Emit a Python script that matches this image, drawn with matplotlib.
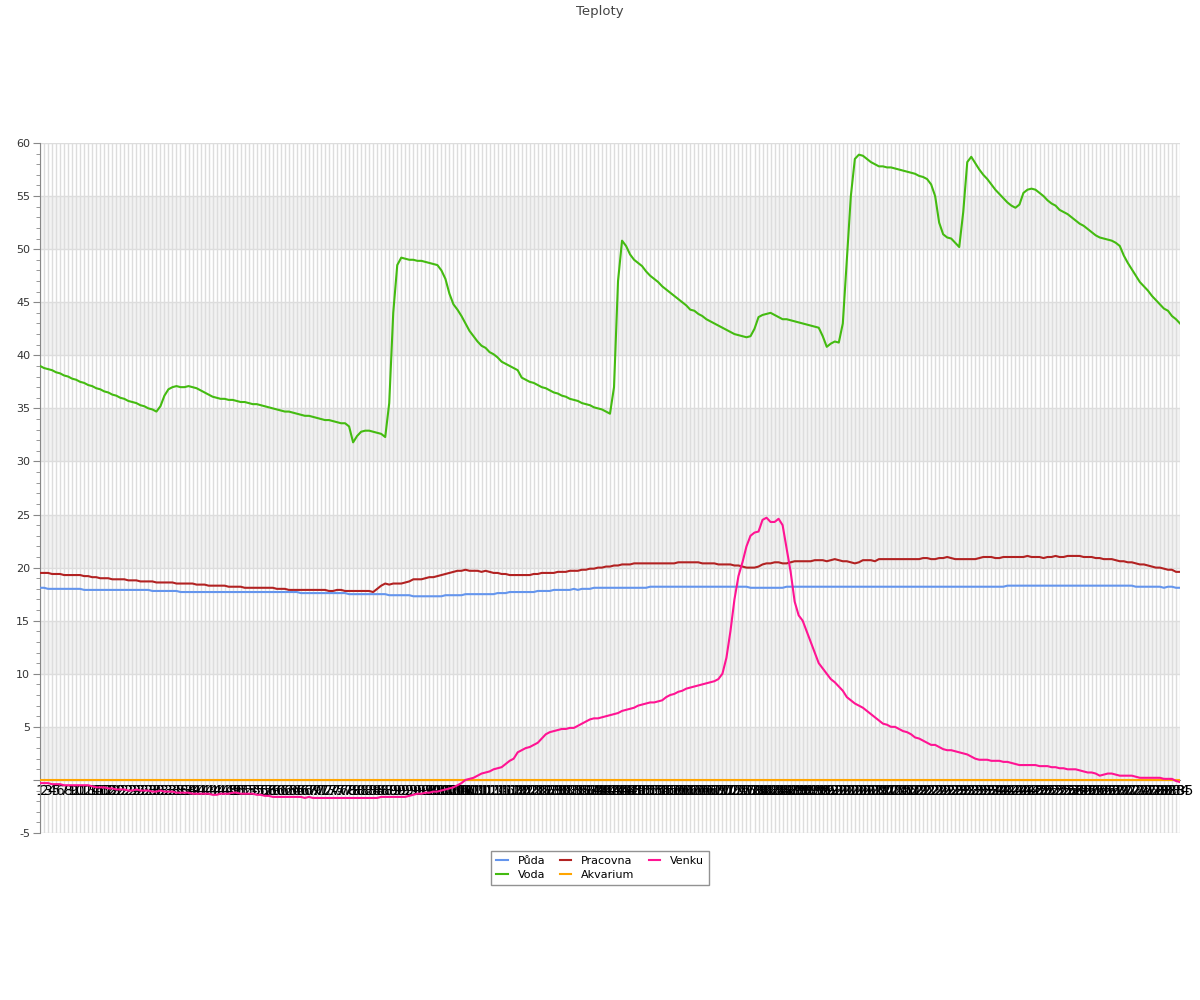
"""Teploty - průběh teplot ze senzorů."""
import matplotlib

matplotlib.use("Agg")
import matplotlib.pyplot as plt
from matplotlib.ticker import MultipleLocator

# měření 1..285
MERENI = list(range(1, 286))

PUDA = [
    18.1, 18.1, 18.0, 18.0, 18.0, 18.0, 18.0, 18.0, 18.0, 18.0,
    18.0, 17.9, 17.9, 17.9, 17.9, 17.9, 17.9, 17.9, 17.9, 17.9,
    17.9, 17.9, 17.9, 17.9, 17.9, 17.9, 17.9, 17.9, 17.8, 17.8,
    17.8, 17.8, 17.8, 17.8, 17.8, 17.7, 17.7, 17.7, 17.7, 17.7,
    17.7, 17.7, 17.7, 17.7, 17.7, 17.7, 17.7, 17.7, 17.7, 17.7,
    17.7, 17.7, 17.7, 17.7, 17.7, 17.7, 17.7, 17.7, 17.7, 17.7,
    17.7, 17.7, 17.7, 17.7, 17.7, 17.6, 17.6, 17.6, 17.6, 17.6,
    17.6, 17.6, 17.6, 17.6, 17.6, 17.6, 17.6, 17.5, 17.5, 17.5,
    17.5, 17.5, 17.5, 17.5, 17.5, 17.5, 17.5, 17.4, 17.4, 17.4,
    17.4, 17.4, 17.4, 17.3, 17.3, 17.3, 17.3, 17.3, 17.3, 17.3,
    17.3, 17.4, 17.4, 17.4, 17.4, 17.4, 17.5, 17.5, 17.5, 17.5,
    17.5, 17.5, 17.5, 17.5, 17.6, 17.6, 17.6, 17.7, 17.7, 17.7,
    17.7, 17.7, 17.7, 17.7, 17.8, 17.8, 17.8, 17.8, 17.9, 17.9,
    17.9, 17.9, 17.9, 18.0, 17.9, 18.0, 18.0, 18.0, 18.1, 18.1,
    18.1, 18.1, 18.1, 18.1, 18.1, 18.1, 18.1, 18.1, 18.1, 18.1,
    18.1, 18.1, 18.2, 18.2, 18.2, 18.2, 18.2, 18.2, 18.2, 18.2,
    18.2, 18.2, 18.2, 18.2, 18.2, 18.2, 18.2, 18.2, 18.2, 18.2,
    18.2, 18.2, 18.2, 18.2, 18.2, 18.2, 18.2, 18.1, 18.1, 18.1,
    18.1, 18.1, 18.1, 18.1, 18.1, 18.1, 18.2, 18.2, 18.2, 18.2,
    18.2, 18.2, 18.2, 18.2, 18.2, 18.2, 18.2, 18.2, 18.2, 18.2,
    18.2, 18.2, 18.2, 18.2, 18.2, 18.2, 18.2, 18.2, 18.2, 18.2,
    18.2, 18.2, 18.2, 18.2, 18.2, 18.2, 18.2, 18.2, 18.2, 18.2,
    18.2, 18.2, 18.2, 18.2, 18.2, 18.2, 18.2, 18.2, 18.2, 18.2,
    18.2, 18.2, 18.2, 18.2, 18.2, 18.2, 18.2, 18.2, 18.2, 18.2,
    18.2, 18.3, 18.3, 18.3, 18.3, 18.3, 18.3, 18.3, 18.3, 18.3,
    18.3, 18.3, 18.3, 18.3, 18.3, 18.3, 18.3, 18.3, 18.3, 18.3,
    18.3, 18.3, 18.3, 18.3, 18.3, 18.3, 18.3, 18.3, 18.3, 18.3,
    18.3, 18.3, 18.3, 18.2, 18.2, 18.2, 18.2, 18.2, 18.2, 18.2,
    18.1, 18.2, 18.2, 18.1, 18.1,
]

VODA = [
    39.0, 38.8, 38.7, 38.6, 38.4, 38.3, 38.1, 38.0, 37.8, 37.7,
    37.5, 37.4, 37.2, 37.1, 36.9, 36.8, 36.6, 36.5, 36.3, 36.2,
    36.0, 35.9, 35.7, 35.6, 35.5, 35.3, 35.2, 35.0, 34.9, 34.7,
    35.2, 36.2, 36.8, 37.0, 37.1, 37.0, 37.0, 37.1, 37.0, 36.9,
    36.7, 36.5, 36.3, 36.1, 36.0, 35.9, 35.9, 35.8, 35.8, 35.7,
    35.6, 35.6, 35.5, 35.4, 35.4, 35.3, 35.2, 35.1, 35.0, 34.9,
    34.8, 34.7, 34.7, 34.6, 34.5, 34.4, 34.3, 34.3, 34.2, 34.1,
    34.0, 33.9, 33.9, 33.8, 33.7, 33.6, 33.6, 33.3, 31.8, 32.4,
    32.8, 32.9, 32.9, 32.8, 32.7, 32.6, 32.3, 35.5, 44.0, 48.5,
    49.2, 49.1, 49.0, 49.0, 48.9, 48.9, 48.8, 48.7, 48.6, 48.5,
    48.0, 47.2, 45.8, 44.8, 44.3, 43.7, 43.0, 42.3, 41.8, 41.3,
    40.9, 40.7, 40.3, 40.1, 39.8, 39.4, 39.2, 39.0, 38.8, 38.6,
    37.9, 37.7, 37.5, 37.4, 37.2, 37.0, 36.9, 36.7, 36.5, 36.4,
    36.2, 36.1, 35.9, 35.8, 35.7, 35.5, 35.4, 35.3, 35.1, 35.0,
    34.9, 34.7, 34.5, 37.0, 47.0, 50.8, 50.3, 49.5, 49.0, 48.7,
    48.4, 47.9, 47.5, 47.2, 46.9, 46.5, 46.2, 45.9, 45.6, 45.3,
    45.0, 44.7, 44.3, 44.2, 43.9, 43.7, 43.4, 43.2, 43.0, 42.8,
    42.6, 42.4, 42.2, 42.0, 41.9, 41.8, 41.7, 41.8, 42.5, 43.6,
    43.8, 43.9, 44.0, 43.8, 43.6, 43.4, 43.4, 43.3, 43.2, 43.1,
    43.0, 42.9, 42.8, 42.7, 42.6, 41.8, 40.8, 41.1, 41.3, 41.2,
    43.0, 49.0, 55.0, 58.5, 58.9, 58.8, 58.5, 58.2, 58.0, 57.8,
    57.8, 57.7, 57.7, 57.6, 57.5, 57.4, 57.3, 57.2, 57.1, 56.9,
    56.8, 56.6, 56.1, 55.0, 52.5, 51.4, 51.1, 51.0, 50.6, 50.2,
    53.5, 58.2, 58.7, 58.1, 57.5, 57.0, 56.6, 56.1, 55.6, 55.2,
    54.8, 54.4, 54.1, 53.9, 54.2, 55.3, 55.6, 55.7, 55.6, 55.3,
    55.0, 54.6, 54.3, 54.1, 53.7, 53.5, 53.3, 53.0, 52.7, 52.4,
    52.2, 51.9, 51.6, 51.3, 51.1, 51.0, 50.9, 50.8, 50.6, 50.3,
    49.4, 48.7, 48.1, 47.5, 46.9, 46.5, 46.1, 45.6, 45.2, 44.8,
    44.4, 44.2, 43.7, 43.4, 43.0,
]

PRACOVNA = [
    19.5, 19.5, 19.5, 19.4, 19.4, 19.4, 19.3, 19.3, 19.3, 19.3,
    19.3, 19.2, 19.2, 19.1, 19.1, 19.0, 19.0, 19.0, 18.9, 18.9,
    18.9, 18.9, 18.8, 18.8, 18.8, 18.7, 18.7, 18.7, 18.7, 18.6,
    18.6, 18.6, 18.6, 18.6, 18.5, 18.5, 18.5, 18.5, 18.5, 18.4,
    18.4, 18.4, 18.3, 18.3, 18.3, 18.3, 18.3, 18.2, 18.2, 18.2,
    18.2, 18.1, 18.1, 18.1, 18.1, 18.1, 18.1, 18.1, 18.1, 18.0,
    18.0, 18.0, 17.9, 17.9, 17.9, 17.9, 17.9, 17.9, 17.9, 17.9,
    17.9, 17.9, 17.8, 17.8, 17.9, 17.9, 17.8, 17.8, 17.8, 17.8,
    17.8, 17.8, 17.8, 17.7, 18.0, 18.3, 18.5, 18.4, 18.5, 18.5,
    18.5, 18.6, 18.7, 18.9, 18.9, 18.9, 19.0, 19.1, 19.1, 19.2,
    19.3, 19.4, 19.5, 19.6, 19.7, 19.7, 19.8, 19.7, 19.7, 19.7,
    19.6, 19.7, 19.6, 19.5, 19.5, 19.4, 19.4, 19.3, 19.3, 19.3,
    19.3, 19.3, 19.3, 19.4, 19.4, 19.5, 19.5, 19.5, 19.5, 19.6,
    19.6, 19.6, 19.7, 19.7, 19.7, 19.8, 19.8, 19.9, 19.9, 20.0,
    20.0, 20.1, 20.1, 20.2, 20.2, 20.3, 20.3, 20.3, 20.4, 20.4,
    20.4, 20.4, 20.4, 20.4, 20.4, 20.4, 20.4, 20.4, 20.4, 20.5,
    20.5, 20.5, 20.5, 20.5, 20.5, 20.4, 20.4, 20.4, 20.4, 20.3,
    20.3, 20.3, 20.3, 20.2, 20.2, 20.1, 20.0, 20.0, 20.0, 20.1,
    20.3, 20.4, 20.4, 20.5, 20.5, 20.4, 20.4, 20.5, 20.6, 20.6,
    20.6, 20.6, 20.6, 20.7, 20.7, 20.7, 20.6, 20.7, 20.8, 20.7,
    20.6, 20.6, 20.5, 20.4, 20.5, 20.7, 20.7, 20.7, 20.6, 20.8,
    20.8, 20.8, 20.8, 20.8, 20.8, 20.8, 20.8, 20.8, 20.8, 20.8,
    20.9, 20.9, 20.8, 20.8, 20.9, 20.9, 21.0, 20.9, 20.8, 20.8,
    20.8, 20.8, 20.8, 20.8, 20.9, 21.0, 21.0, 21.0, 20.9, 20.9,
    21.0, 21.0, 21.0, 21.0, 21.0, 21.0, 21.1, 21.0, 21.0, 21.0,
    20.9, 21.0, 21.0, 21.1, 21.0, 21.0, 21.1, 21.1, 21.1, 21.1,
    21.0, 21.0, 21.0, 20.9, 20.9, 20.8, 20.8, 20.8, 20.7, 20.6,
    20.6, 20.5, 20.5, 20.4, 20.3, 20.3, 20.2, 20.1, 20.0, 20.0,
    19.9, 19.8, 19.8, 19.6, 19.6,
]

AKVARIUM = [0.0] * 285

VENKU = [
    -0.3, -0.3, -0.3, -0.4, -0.4, -0.4, -0.5, -0.5, -0.5, -0.5,
    -0.5, -0.5, -0.5, -0.6, -0.7, -0.7, -0.7, -0.8, -0.8, -0.9,
    -0.9, -0.9, -1.0, -1.0, -0.9, -1.0, -1.0, -1.0, -1.1, -1.1,
    -1.0, -1.1, -1.1, -1.1, -1.2, -1.2, -1.2, -1.2, -1.3, -1.3,
    -1.3, -1.3, -1.3, -1.4, -1.4, -1.3, -1.3, -1.3, -1.2, -1.2,
    -1.3, -1.3, -1.3, -1.3, -1.4, -1.4, -1.5, -1.5, -1.6, -1.6,
    -1.6, -1.6, -1.6, -1.6, -1.6, -1.6, -1.7, -1.6, -1.7, -1.7,
    -1.7, -1.7, -1.7, -1.7, -1.7, -1.7, -1.7, -1.7, -1.7, -1.7,
    -1.7, -1.7, -1.7, -1.7, -1.7, -1.6, -1.6, -1.6, -1.6, -1.6,
    -1.6, -1.6, -1.5, -1.4, -1.3, -1.3, -1.2, -1.2, -1.1, -1.1,
    -1.0, -0.9, -0.8, -0.7, -0.5, -0.3, 0.0, 0.1, 0.2, 0.4,
    0.6, 0.7, 0.8, 1.0, 1.1, 1.2, 1.5, 1.8, 2.0, 2.6,
    2.8, 3.0, 3.1, 3.3, 3.5, 3.9, 4.3, 4.5, 4.6, 4.7,
    4.8, 4.8, 4.9, 4.9, 5.1, 5.3, 5.5, 5.7, 5.8, 5.8,
    5.9, 6.0, 6.1, 6.2, 6.3, 6.5, 6.6, 6.7, 6.8, 7.0,
    7.1, 7.2, 7.3, 7.3, 7.4, 7.5, 7.8, 8.0, 8.1, 8.3,
    8.4, 8.6, 8.7, 8.8, 8.9, 9.0, 9.1, 9.2, 9.3, 9.5,
    10.0, 11.5, 14.0, 17.0, 19.2, 20.5, 22.0, 23.0, 23.3, 23.4,
    24.5, 24.7, 24.3, 24.3, 24.6, 24.0, 21.8, 19.6, 16.8, 15.5,
    15.0, 14.0, 13.0, 12.0, 11.0, 10.5, 10.0, 9.5, 9.2, 8.8,
    8.4, 7.8, 7.5, 7.2, 7.0, 6.8, 6.5, 6.2, 5.9, 5.6,
    5.3, 5.2, 5.0, 5.0, 4.8, 4.6, 4.5, 4.3, 4.0, 3.9,
    3.7, 3.5, 3.3, 3.3, 3.1, 2.9, 2.8, 2.8, 2.7, 2.6,
    2.5, 2.4, 2.2, 2.0, 1.9, 1.9, 1.9, 1.8, 1.8, 1.8,
    1.7, 1.7, 1.6, 1.5, 1.4, 1.4, 1.4, 1.4, 1.4, 1.3,
    1.3, 1.3, 1.2, 1.2, 1.1, 1.1, 1.0, 1.0, 1.0, 0.9,
    0.8, 0.7, 0.7, 0.6, 0.4, 0.5, 0.6, 0.6, 0.5, 0.4,
    0.4, 0.4, 0.4, 0.3, 0.2, 0.2, 0.2, 0.2, 0.2, 0.2,
    0.1, 0.1, 0.1, -0.1, -0.2,
]

SERIE = [
    ("Půda", PUDA, "#6495ed"),
    ("Voda", VODA, "#44bb11"),
    ("Pracovna", PRACOVNA, "#b22222"),
    ("Akvarium", AKVARIUM, "#ffa500"),
    ("Venku", VENKU, "#ff1493"),
]

Y_MIN, Y_MAX = -5, 60

fig = plt.figure(figsize=(12, 10), dpi=100)
ax = fig.add_axes([40 / 1200, 1 - 833 / 1000, 1140 / 1200, 690 / 1000])

# střídavé pruhy
for low in range(0, Y_MAX, 10):
    ax.axhspan(low, low + 5, color="#f2f2f2", zorder=0, lw=0)

for name, values, color in SERIE:
    ax.plot(MERENI, values, color=color, lw=1.5, label=name, zorder=3)

ax.set_xlim(MERENI[0], MERENI[-1])
ax.set_ylim(Y_MIN, Y_MAX)

ax.set_xticks(MERENI)
ax.set_xticklabels([str(m) for m in MERENI], fontsize=7.5, color="#444444")
ax.tick_params(axis="x", length=0, pad=3)

yticks = list(range(Y_MIN, Y_MAX + 1, 5))
ax.set_yticks(yticks)
ax.set_yticklabels(["" if t == 0 else str(t) for t in yticks], fontsize=8, color="#333333")
ax.yaxis.set_minor_locator(MultipleLocator(1))
ax.tick_params(axis="y", which="major", length=5, color="#888888", pad=2)
ax.tick_params(axis="y", which="minor", length=3, color="#888888")

ax.grid(True, axis="both", which="major", color="#dddddd", lw=1, zorder=1)
ax.set_axisbelow(True)

for side in ("top", "right"):
    ax.spines[side].set_visible(False)
ax.spines["left"].set_color("#888888")
ax.spines["bottom"].set_color("#888888")
ax.spines["bottom"].set_position(("data", 0))

fig.text(0.5, 1 - 11 / 1000, "Teploty", ha="center", va="center", fontsize=9.5, color="#444444")

leg = fig.legend(
    loc="center", bbox_to_anchor=(600 / 1200, 1 - 868 / 1000), ncol=3,
    fontsize=8, frameon=True, fancybox=False, handlelength=1.0,
    columnspacing=1.3, handletextpad=0.9, borderpad=0.5, labelspacing=0.3,
)
leg.get_frame().set_edgecolor("#777777")
leg.get_frame().set_linewidth(1)

fig.savefig("out.png", dpi=100)
